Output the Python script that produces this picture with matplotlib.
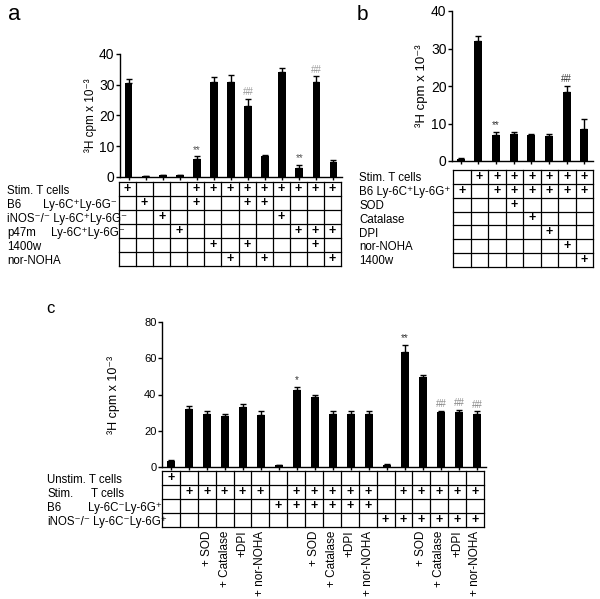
import numpy as np
import matplotlib.pyplot as plt

plt.rcParams['font.family'] = ['Liberation Sans', 'DejaVu Sans']

W, H = 600, 599

# ---- panel a data
a_vals = [30.5, 0.2, 0.5, 0.5, 6.0, 31.0, 31.0, 23.0, 6.8, 34.0, 3.0, 31.0, 5.0]
a_err = [1.5, 0.1, 0.2, 0.2, 0.8, 1.5, 2.3, 2.4, 0.5, 1.3, 1.0, 1.8, 0.4]
a_marks = {4: '**', 7: '##', 10: '**', 11: '##'}
a_rows = ['Stim. T cells', 'B6', 'iNOS⁻/⁻ Ly-6C⁺Ly-6G⁻', 'p47m', '1400w', 'nor-NOHA']
a_table = [
    [1, 0, 0, 0, 1, 1, 1, 1, 1, 1, 1, 1, 1],
    [0, 1, 0, 0, 1, 0, 0, 1, 1, 0, 0, 0, 0],
    [0, 0, 1, 0, 0, 0, 0, 0, 0, 1, 0, 0, 0],
    [0, 0, 0, 1, 0, 0, 0, 0, 0, 0, 1, 1, 1],
    [0, 0, 0, 0, 0, 1, 0, 1, 0, 0, 0, 1, 0],
    [0, 0, 0, 0, 0, 0, 1, 0, 1, 0, 0, 0, 1],
]

# ---- panel b data
b_vals = [0.5, 32.0, 7.0, 7.3, 7.0, 6.8, 18.5, 8.5]
b_err = [0.2, 1.2, 0.7, 0.4, 0.3, 0.4, 1.6, 2.7]
b_marks = {2: '**', 6: '##'}
b_rows = ['Stim. T cells', 'B6 Ly-6C⁺Ly-6G⁺', 'SOD', 'Catalase', 'DPI', 'nor-NOHA', '1400w']
b_table = [
    [0, 1, 1, 1, 1, 1, 1, 1],
    [1, 0, 1, 1, 1, 1, 1, 1],
    [0, 0, 0, 1, 0, 0, 0, 0],
    [0, 0, 0, 0, 1, 0, 0, 0],
    [0, 0, 0, 0, 0, 1, 0, 0],
    [0, 0, 0, 0, 0, 0, 1, 0],
    [0, 0, 0, 0, 0, 0, 0, 1],
]

# ---- panel c data
c_vals = [3.5, 32.0, 29.5, 28.0, 33.0, 28.5, 1.0, 42.5, 38.5, 29.5, 29.0, 29.5,
          1.2, 63.5, 49.5, 30.5, 30.5, 29.5]
c_err = [0.5, 1.8, 1.5, 1.5, 1.8, 2.5, 0.3, 1.5, 1.5, 1.5, 2.0, 1.5,
         0.3, 4.0, 1.2, 0.5, 1.0, 1.2]
c_marks = {7: '*', 13: '**', 15: '##', 16: '##', 17: '##'}
c_table = [
    [1, 0, 0, 0, 0, 0, 0, 0, 0, 0, 0, 0, 0, 0, 0, 0, 0, 0],
    [0, 1, 1, 1, 1, 1, 0, 1, 1, 1, 1, 1, 0, 1, 1, 1, 1, 1],
    [0, 0, 0, 0, 0, 0, 1, 1, 1, 1, 1, 1, 0, 0, 0, 0, 0, 0],
    [0, 0, 0, 0, 0, 0, 0, 0, 0, 0, 0, 0, 1, 1, 1, 1, 1, 1],
]
c_treat = ['', '', '+ SOD', '+ Catalase', '+DPI', '+ nor-NOHA', '', '', '+ SOD', '+ Catalase', '+DPI',
           '+ nor-NOHA', '', '', '+ SOD', '+ Catalase', '+DPI', '+ nor-NOHA']

ylab = '³H cpm x 10⁻³'

fig = plt.figure(figsize=(6, 5.99), dpi=100)


def box(l, r, t, b):
    return [l / W, 1 - b / H, (r - l) / W, (b - t) / H]


def ftext(x, y, s, **kw):
    fig.text(x / W, 1 - y / H, s, **kw)


def bars(rect, vals, err, marks, ymax, step, fs, lfs, lx, mark_col):
    ax = fig.add_axes(rect)
    n = len(vals)
    x = np.arange(n)
    ax.bar(x, vals, width=0.45, color='black')
    ax.errorbar(x, vals, yerr=[np.zeros(n), err], fmt='none', ecolor='black',
                elinewidth=1, capsize=2, capthick=1)
    for i, m in marks.items():
        ax.text(i, vals[i] + err[i] + ymax * 0.012, m, ha='center', va='bottom',
                fontsize=7, color=mark_col.get(m, 'black'))
    ax.set_xlim(-0.5, n - 0.5)
    ax.set_ylim(0, ymax)
    ax.set_yticks(np.arange(0, ymax + 1, step))
    ax.set_xticks(x)
    ax.set_xticklabels([])
    ax.tick_params(axis='y', labelsize=fs, length=3, width=1, pad=1)
    ax.tick_params(axis='x', length=2, width=1)
    for s in ['top', 'right']:
        ax.spines[s].set_visible(False)
    ax.spines['left'].set_linewidth(1)
    ax.spines['bottom'].set_linewidth(1)
    ax.set_ylabel(ylab, fontsize=lfs)
    ax.yaxis.set_label_coords(lx, 0.5)
    return ax


def table(rect, grid, fs):
    ax = fig.add_axes(rect)
    nr, nc = len(grid), len(grid[0])
    ax.set_xlim(-0.5, nc - 0.5)
    ax.set_ylim(nr, 0)
    ax.axis('off')
    for i in range(nc + 1):
        ax.plot([i - 0.5, i - 0.5], [0, nr], color='black', lw=0.9, clip_on=False)
    for j in range(nr + 1):
        ax.plot([-0.5, nc - 0.5], [j, j], color='black', lw=0.9, clip_on=False)
    for j, row in enumerate(grid):
        for i, v in enumerate(row):
            if v:
                ax.text(i, j + 0.5, '+', ha='center', va='center', fontsize=fs,
                        fontweight='bold')
    return ax


# panel a
bars(box(120, 342, 54, 177), a_vals, a_err, a_marks, 40, 10, 10, 8.5, -0.105,
     {'**': '#555555', '##': '#999999'})
table(box(119, 341, 182, 266), a_table, 9)
a_y = [194, 208, 222, 236, 250, 264]
for y, s in zip(a_y, a_rows):
    ftext(7, y, s, fontsize=8.3, va='baseline')
ftext(43, a_y[1], 'Ly-6C⁺Ly-6G⁻', fontsize=8.3, va='baseline')
ftext(51, a_y[3], 'Ly-6C⁺Ly-6G⁻', fontsize=8.3, va='baseline')

# panel b
bars(box(452, 593, 11, 161), b_vals, b_err, b_marks, 40, 10, 10, 9.5, -0.17,
     {'**': '#333333', '##': '#333333'})
table(box(453, 593, 170, 267), b_table, 9)
for j, s in enumerate(b_rows):
    ftext(359, 181 + j * 13.9, s, fontsize=8.3, va='baseline')

# panel c
bars(box(162, 486, 322, 467), c_vals, c_err, c_marks, 80, 20, 8, 9, -0.13,
     {'*': '#333333', '**': '#333333', '##': '#888888'})
tc = table(box(162, 484, 471, 527), c_table, 9)
for i, s in enumerate(c_treat):
    if s:
        tc.text(i, 4.25, s, rotation=90, ha='center', va='top', fontsize=8.5)
c_y = [483, 497, 511, 525]
ftext(47, c_y[0], 'Unstim. T cells', fontsize=8.3, va='baseline')
ftext(47, c_y[1], 'Stim.', fontsize=8.3, va='baseline')
ftext(91, c_y[1], 'T cells', fontsize=8.3, va='baseline')
ftext(47, c_y[2], 'B6', fontsize=8.3, va='baseline')
ftext(88, c_y[2], 'Ly-6C⁻Ly-6G⁺', fontsize=8.3, va='baseline')
ftext(47, c_y[3], 'iNOS⁻/⁻', fontsize=8.3, va='baseline')
ftext(93, c_y[3], 'Ly-6C⁻Ly-6G⁺', fontsize=8.3, va='baseline')

# panel letters
ftext(14, 15, 'a', fontsize=16, ha='center', va='center')
ftext(362, 14, 'b', fontsize=15, ha='center', va='center')
ftext(50, 308, 'c', fontsize=12, ha='center', va='center')

plt.savefig('out.png', dpi=100)
